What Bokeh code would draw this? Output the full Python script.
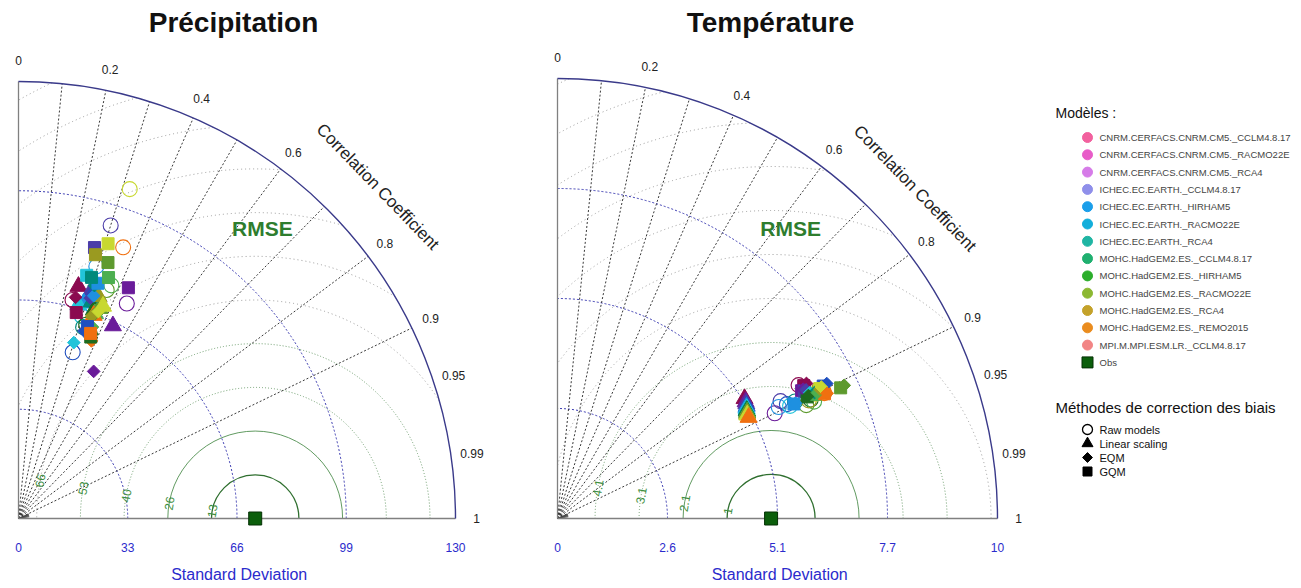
import numpy as np
from bokeh.plotting import figure
from bokeh.layouts import row
from bokeh.models import Range1d
from bokeh.core.properties import value
from bokeh.embed import file_html
from bokeh.resources import INLINE

FONT = "Liberation Sans"

# ---------------- data ----------------
MODELS = [
    "CNRM.CERFACS.CNRM.CM5._CCLM4.8.17",
    "CNRM.CERFACS.CNRM.CM5._RACMO22E",
    "CNRM.CERFACS.CNRM.CM5._RCA4",
    "ICHEC.EC.EARTH._CCLM4.8.17",
    "ICHEC.EC.EARTH._HIRHAM5",
    "ICHEC.EC.EARTH._RACMO22E",
    "ICHEC.EC.EARTH._RCA4",
    "MOHC.HadGEM2.ES._CCLM4.8.17",
    "MOHC.HadGEM2.ES._HIRHAM5",
    "MOHC.HadGEM2.ES._RACMO22E",
    "MOHC.HadGEM2.ES._RCA4",
    "MOHC.HadGEM2.ES._REMO2015",
    "MPI.M.MPI.ESM.LR._CCLM4.8.17",
]
LEGEND_COLORS = ["#F2609E", "#E85CC8", "#D67BE8", "#8F8FEA", "#1A9EEA", "#12AEDB",
                 "#1FB5A3", "#20B070", "#2BAE2B", "#8CB832", "#C4A22A", "#EA8C1E", "#F28585"]
PLOT_COLORS = ["#8B0A50", "#6A1B9A", "#4B3CA8", "#1F4FBF", "#1E90E0", "#22C4DA",
               "#00897B", "#1E6B1E", "#4CAF50", "#5E9A2E", "#9A9A20", "#C8D830", "#F07010"]
METHODS = ["Raw models", "Linear scaling", "EQM", "GQM"]
OBS_LABEL = "Obs"
CORR_TICKS = [0, 0.2, 0.4, 0.6, 0.8, 0.9, 0.95, 0.99, 1]
CORR_LABELS = ["0", "0.2", "0.4", "0.6", "0.8", "0.9", "0.95", "0.99", "1"]
CORR_LINES = [0.1, 0.2, 0.3, 0.4, 0.5, 0.6, 0.7, 0.8, 0.9]
CORR_STUBS = [0.91, 0.92, 0.93, 0.94, 0.95, 0.96, 0.97, 0.98, 0.99]

# Precipitation
P_MAX = 132.0
P_OBS = 71.5
P_STD_TICKS = [0, 33, 66, 99, 132]
P_STD_LABELS = ["0", "33", "66", "99", "130"]
P_RMSE_STEP = 13.2
P_RMSE_LABELS = ["13", "26", "40", "53", "66"]
P_RAW_SD = [68, 72.7, 92.8, 52.8, 79.7, 64, 61, 62, 75.8, 74, 70, 105, 87.8]
P_RAW_R = [0.24, 0.45, 0.30, 0.31, 0.295, 0.30, 0.32, 0.33, 0.37, 0.36, 0.33, 0.32, 0.36]
P_LS_SD = [72.4, 64.8, 71, 70, 68, 67, 69, 67, 66, 68, 71.3, 69, 65.4]
P_LS_R = [0.25, 0.44, 0.30, 0.31, 0.29, 0.27, 0.32, 0.34, 0.35, 0.36, 0.339, 0.37, 0.347]
P_EQM_SD = [69, 49.9, 70, 60, 71, 55.7, 74, 60, 62, 66, 65, 67, 58]
P_EQM_R = [0.25, 0.455, 0.31, 0.33, 0.32, 0.30, 0.31, 0.37, 0.36, 0.35, 0.34, 0.36, 0.38]
P_GQM_SD = [64.6, 77.2, 85, 61.6, 75, 76.3, 76.1, 59, 77.7, 81.9, 83, 87.3, 60]
P_GQM_R = [0.27, 0.43, 0.27, 0.338, 0.32, 0.27, 0.29, 0.37, 0.35, 0.33, 0.28, 0.31, 0.363]

# Temperature
T_MAX = 10.3
T_OBS = 5.0
T_STD_TICKS = [0, 2.575, 5.15, 7.725, 10.3]
T_STD_LABELS = ["0", "2.6", "5.1", "7.7", "10"]
T_RMSE_STEP = 1.03
T_RMSE_LABELS = ["1", "2.1", "3.1", "4.1"]
T_RAW_SD = [6.45, 5.65, 5.9, 6.0, 5.8, 6.05, 6.2, 6.55, 6.6, 6.4, 6.5, 6.7, 6.9]
T_RAW_R = [0.875, 0.90, 0.885, 0.895, 0.893, 0.90, 0.897, 0.905, 0.91, 0.91, 0.905, 0.90, 0.905]
T_LS_SD = [5.2, 5.18, 5.17, 5.15, 5.13, 5.12, 5.1, 5.1, 5.09, 5.08, 5.07, 5.06, 5.06]
T_LS_R = [0.842, 0.85, 0.855, 0.86, 0.862, 0.865, 0.868, 0.87, 0.872, 0.874, 0.876, 0.878, 0.884]
T_EQM_SD = [6.63, 6.5, 6.55, 7.05, 6.19, 6.6, 6.7, 6.54, 6.76, 7.4, 6.85, 6.9, 6.96]
T_EQM_R = [0.879, 0.885, 0.888, 0.894, 0.90, 0.895, 0.898, 0.898, 0.90, 0.907, 0.897, 0.895, 0.907]
T_GQM_SD = [6.55, 6.45, 6.5, 6.95, 6.15, 6.55, 6.65, 6.5, 6.7, 7.3, 6.8, 6.85, 6.9]
T_GQM_R = [0.88, 0.886, 0.889, 0.895, 0.90, 0.896, 0.899, 0.899, 0.901, 0.908, 0.898, 0.896, 0.906]

H = 588
ORIGIN_Y_PX = 518  # from top of figure


def polar(sd, r):
    sd = np.asarray(sd, float)
    th = np.arccos(np.asarray(r, float))
    return sd * np.cos(th), sd * np.sin(th)


def panel(title, W, ox, R_px, smax, obs, std_ticks, std_labels, rmse_step, rmse_labels,
          series, order, rmse_lab_x, cc_r, title_x_px):
    s = R_px / smax
    p = figure(width=W, height=H, output_backend="svg", toolbar_location=None,
               x_range=Range1d(-ox / s, (W - ox) / s),
               y_range=Range1d(-(H - ORIGIN_Y_PX) / s, ORIGIN_Y_PX / s),
               min_border=0, outline_line_color=None, background_fill_color="white")
    p.axis.visible = False
    p.grid.visible = False
    R = smax
    # RMSE circles
    for k in range(1, 12):
        r = k * rmse_step
        A = (R ** 2 - obs ** 2 - r ** 2) / (2 * obs * r)
        a0 = np.arccos(np.clip(A, -1, 1))
        a1 = np.arccos(max(-1.0, -obs / r))
        if a0 >= a1:
            continue
        if k == 1:
            kw = dict(line_color="#2f6f2f", line_width=1.3)
        elif k == 2:
            kw = dict(line_color="#4f8f4f", line_width=0.9)
        elif k <= 4:
            kw = dict(line_color="#6e9e6e", line_width=1, line_dash="1 2")
        else:
            kw = dict(line_color="#9a9a9a", line_width=1, line_dash="1 3")
        p.arc(x=obs, y=0, radius=r, start_angle=a0, end_angle=a1, **kw)
    # std arcs
    for t in std_ticks[1:-1]:
        p.arc(x=0, y=0, radius=t, start_angle=0, end_angle=np.pi / 2,
              line_color="#3a3ab0", line_width=1, line_dash="2 2")
    # correlation lines
    th = np.arccos(np.array(CORR_LINES))
    p.segment(x0=0, y0=0, x1=R * np.cos(th), y1=R * np.sin(th),
              line_color="#222222", line_width=0.9, line_dash="2 2")
    th2 = np.arccos(np.array(CORR_STUBS))
    p.segment(x0=0, y0=0, x1=0.025 * R * np.cos(th2), y1=0.025 * R * np.sin(th2),
              line_color="#444444", line_width=0.6)
    # axes and outer arc
    p.segment(x0=[0, 0], y0=[0, 0], x1=[0, R], y1=[R, 0], line_color="#808080", line_width=1.3)
    p.arc(x=0, y=0, radius=R, start_angle=0, end_angle=np.pi / 2,
          line_color="#3a3a8a", line_width=1.4)
    # RMSE labels
    phi = np.deg2rad(170)
    for k, lab in enumerate(rmse_labels, start=1):
        r = k * rmse_step
        p.text(x=[obs + r * np.cos(phi)], y=[r * np.sin(phi)], text=[lab],
               angle=phi - np.pi / 2, text_align="center", text_baseline="middle",
               text_font=value(FONT), text_font_size="12px", text_color="#3f8f3f")
    # correlation tick labels
    thc = np.arccos(np.array(CORR_TICKS, float))
    p.text(x=1.048 * R * np.cos(thc), y=1.048 * R * np.sin(thc), text=CORR_LABELS,
           text_align="center", text_baseline="middle", text_font=value(FONT),
           text_font_size="12px", text_color="#222222")
    # std tick labels
    p.text(x=std_ticks, y=[-29 / s] * len(std_ticks), text=std_labels,
           text_align="center", text_baseline="middle", text_font=value(FONT),
           text_font_size="12px", text_color="#2b2bcc")
    p.text(x=[0.505 * R], y=[-56 / s], text=["Standard Deviation"],
           text_align="center", text_baseline="middle", text_font=value(FONT),
           text_font_size="16px", text_color="#2b2bcc")
    # labels
    p.text(x=[rmse_lab_x * R], y=[290 / s], text=["RMSE"], text_align="center",
           text_baseline="middle", text_font=value(FONT), text_font_size="21px",
           text_font_style="bold", text_color="#2e7d2e")
    ca = np.deg2rad(42.7)
    p.text(x=[cc_r * R * np.cos(ca)], y=[cc_r * R * np.sin(ca)], text=["Correlation Coefficient"],
           angle=np.deg2rad(-46), text_align="center", text_baseline="middle",
           text_font=value(FONT), text_font_size="17px", text_color="#222222")
    p.text(x=[title_x_px / s], y=[496 / s], text=[title], text_align="center",
           text_baseline="middle", text_font=value(FONT), text_font_size="28px",
           text_font_style="bold", text_color="#111111")
    # markers
    for m in order:
        sd, rr = series[m]
        x, y = polar(sd, rr)
        if m == 0:
            p.scatter(x, y, marker="circle", size=15, fill_color=None,
                      line_color=PLOT_COLORS, line_width=1.1)
        elif m == 1:
            p.scatter(x, y, marker="triangle", size=17, fill_color=PLOT_COLORS,
                      line_color=PLOT_COLORS)
        elif m == 2:
            p.scatter(x, y, marker="square", angle=np.pi / 4, size=9, fill_color=PLOT_COLORS,
                      line_color=PLOT_COLORS)
        else:
            p.scatter(x, y, marker="square", size=12, fill_color=PLOT_COLORS,
                      line_color=PLOT_COLORS)
    p.scatter([obs], [0], marker="square", size=13, fill_color="#0b5e0b", line_color="#053005")
    return p


p1 = panel("Précipitation", 538, 18, 437, P_MAX, P_OBS, P_STD_TICKS, P_STD_LABELS,
           P_RMSE_STEP, P_RMSE_LABELS,
           [(P_RAW_SD, P_RAW_R), (P_LS_SD, P_LS_R), (P_EQM_SD, P_EQM_R), (P_GQM_SD, P_GQM_R)],
           [0, 1, 2, 3], 0.558, 1.119, 215)
p2 = panel("Température", 502, 19, 440, T_MAX, T_OBS, T_STD_TICKS, T_STD_LABELS,
           T_RMSE_STEP, T_RMSE_LABELS,
           [(T_RAW_SD, T_RAW_R), (T_LS_SD, T_LS_R), (T_EQM_SD, T_EQM_R), (T_GQM_SD, T_GQM_R)],
           [0, 1, 3, 2], 0.53, 1.106, 213)

# legend panel
LW = 260
pl = figure(width=LW, height=H, output_backend="svg", toolbar_location=None,
            x_range=Range1d(0, LW), y_range=Range1d(H, 0), min_border=0,
            outline_line_color=None, background_fill_color="white")
pl.axis.visible = False
pl.grid.visible = False
pl.text(x=[15], y=[112], text=["Modèles :"], text_baseline="middle", text_font=value(FONT),
        text_font_size="14px", text_color="#111111")
n = len(MODELS)
ys = 137 + 17.3 * np.arange(n)
pl.scatter(np.full(n, 47), ys, marker="circle", size=10, fill_color=LEGEND_COLORS,
           line_color=LEGEND_COLORS)
pl.text(x=np.full(n, 59), y=ys, text=MODELS, text_baseline="middle", text_font=value(FONT),
        text_font_size="9.5px", text_color="#444444")
yo = 137 + 17.3 * n
pl.scatter([47], [yo], marker="square", size=11, fill_color="#0b5e0b", line_color="#053005")
pl.text(x=[59], y=[yo], text=[OBS_LABEL], text_baseline="middle", text_font=value(FONT),
        text_font_size="9.5px", text_color="#444444")
pl.text(x=[15], y=[407], text=["Méthodes de correction des biais"], text_baseline="middle",
        text_font=value(FONT), text_font_size="15px", text_color="#111111")
ym = 429 + 14 * np.arange(4)
pl.scatter([47], [ym[0]], marker="circle", size=10, fill_color=None, line_color="black",
           line_width=1.3)
pl.scatter([47], [ym[1]], marker="triangle", size=11, fill_color="black", line_color="black")
pl.scatter([47], [ym[2]], marker="square", angle=np.pi / 4, size=7, fill_color="black",
           line_color="black")
pl.scatter([47], [ym[3]], marker="square", size=9, fill_color="black", line_color="black")
pl.text(x=np.full(4, 59), y=ym, text=METHODS, text_baseline="middle", text_font=value(FONT),
        text_font_size="11px", text_color="#111111")

layout = row(p1, p2, pl)
open("out.html", "w").write(file_html(layout, INLINE))
